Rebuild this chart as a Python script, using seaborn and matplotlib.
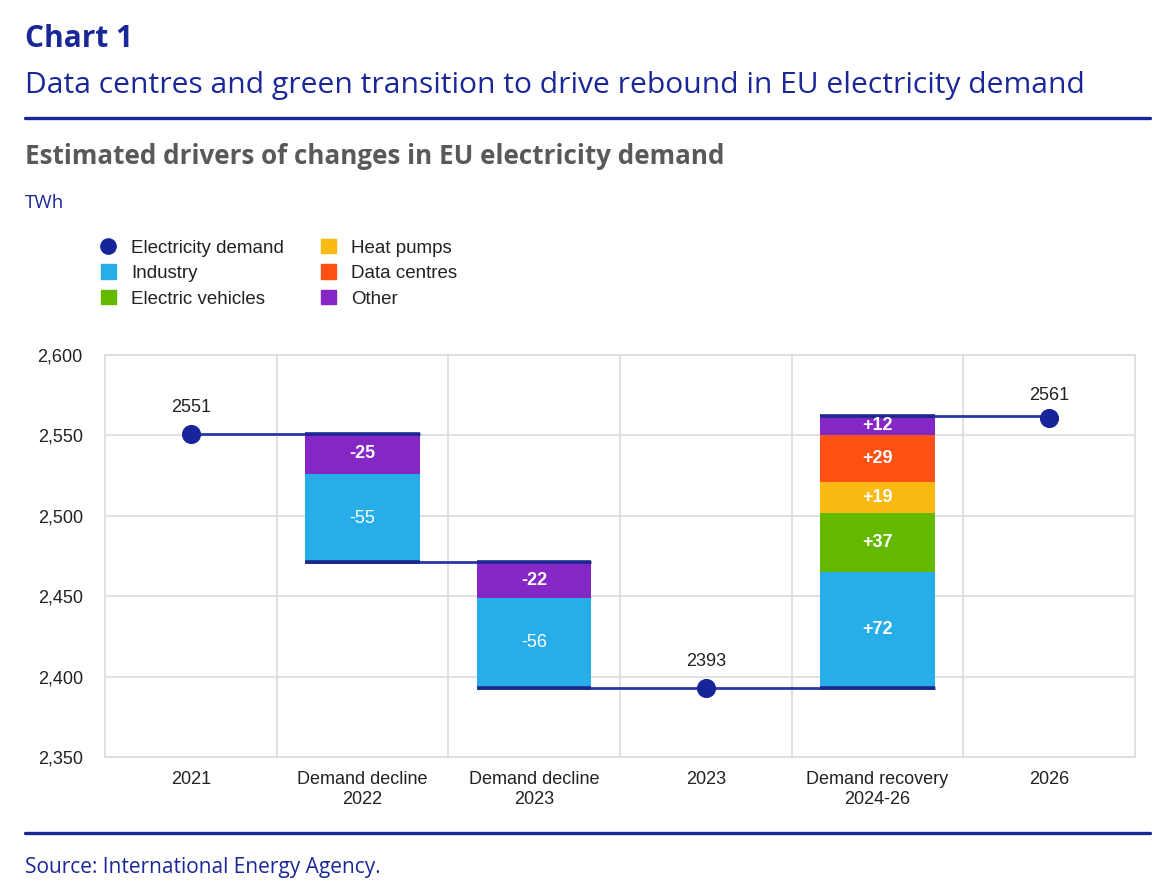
import matplotlib
matplotlib.use("Agg")
import matplotlib.pyplot as plt
from matplotlib.lines import Line2D
from matplotlib.patches import Patch
from matplotlib.ticker import FuncFormatter
import seaborn as sns
import pandas as pd

# ---------------- data ----------------
categories = ["2021", "Demand decline\n2022", "Demand decline\n2023", "2023",
              "Demand recovery\n2024-26", "2026"]
demand_pos = [0, 3, 5]
demand_values = [2551, 2393, 2561]
change_pos = [1, 2, 4]
industry = [-55, -56, 72]
electric_vehicles = [0, 0, 37]
heat_pumps = [0, 0, 19]
data_centres = [0, 0, 29]
other = [-25, -22, 12]
yticks = [2350, 2400, 2450, 2500, 2550, 2600]

DARK = "#1a2799"
DOT = "#18249a"
colors = {"Industry": "#27aee8", "Electric vehicles": "#65b800",
          "Heat pumps": "#fbb914", "Data centres": "#fe5113", "Other": "#8427c4"}
components = {"Industry": industry, "Electric vehicles": electric_vehicles,
              "Heat pumps": heat_pumps, "Data centres": data_centres, "Other": other}

sns.set_theme(style="white")
plt.rcParams["font.family"] = ["Liberation Sans", "DejaVu Sans"]

fig = plt.figure(figsize=(11.65, 8.83), dpi=100)
ax = fig.add_axes([105 / 1165, 1 - 757 / 883, 1030 / 1165, 402 / 883])

W = 0.665
# compute bar spans
level = demand_values[0]
spans = []
for i in range(len(change_pos)):
    total = sum(components[k][i] for k in components)
    new = level + total
    spans.append((min(level, new), max(level, new), level, new))
    level = new

# stacked floating bars
for i, p in enumerate(change_pos):
    low = spans[i][0]
    for name, vals in components.items():
        v = vals[i]
        if v == 0:
            continue
        h = abs(v)
        ax.bar(p, h, bottom=low, width=W, color=colors[name], linewidth=0, zorder=2)
        weight = "normal" if (name == "Industry" and v < 0) else "bold"
        ax.text(p, low + h / 2, f"{'+' if v > 0 else ''}{v}", ha="center", va="center",
                color="white", fontsize=13, fontweight=weight, zorder=5)
        low += h

# connector lines
conn = [
    (demand_pos[0], change_pos[0] + W / 2, demand_values[0]),
    (change_pos[0] - W / 2, change_pos[1] + W / 2, spans[0][3]),
    (change_pos[1] - W / 2, change_pos[2] + W / 2, spans[1][3]),
    (change_pos[2] - W / 2, demand_pos[2], spans[2][3]),
]
for x0, x1, y in conn:
    ax.plot([x0, x1], [y, y], color="#2a36a8", lw=2, zorder=3, solid_capstyle="butt")
# dark edges at bar tops/bottoms
for i, p in enumerate(change_pos):
    for y in spans[i][:2]:
        ax.plot([p - W / 2, p + W / 2], [y, y], color="#1c2790", lw=2.6, zorder=4,
                solid_capstyle="butt")

# demand dots
df_dem = pd.DataFrame({"x": demand_pos, "y": demand_values})
sns.scatterplot(data=df_dem, x="x", y="y", s=190, color=DOT, edgecolor=DOT,
                linewidth=0, zorder=6, ax=ax, legend=False)
for x, y in zip(demand_pos, demand_values):
    off = 19 if x != 5 else 16
    ax.annotate(str(y), (x, y), xytext=(0, off), textcoords="offset points",
                ha="center", va="center", fontsize=13, color="#222222")

ax.set_xlim(-0.5, 5.5)
ax.set_ylim(2350, 2600)
ax.set_yticks(yticks)
ax.yaxis.set_major_formatter(FuncFormatter(lambda v, _: f"{int(v):,}"))
ax.set_xticks(range(len(categories)))
ax.set_xticklabels(categories, fontsize=13, color="#222222", linespacing=1.25)
ax.tick_params(axis="y", labelsize=13, labelcolor="#222222", length=0, pad=16)
ax.tick_params(axis="x", length=0, pad=10)
ax.set_xlabel("")
ax.set_ylabel("")
for y in yticks:
    ax.axhline(y, color="#dcdcdc", lw=1.2, zorder=0)
for x in [0.5, 1.5, 2.5, 3.5, 4.5]:
    ax.axvline(x, color="#dcdcdc", lw=1.2, zorder=0)
for s in ax.spines.values():
    s.set_color("#dcdcdc")
    s.set_linewidth(1.2)
ax.grid(False)

# legend
handles = [
    Line2D([], [], marker="o", linestyle="none", markersize=11, color=DOT, label="Electricity demand"),
    Patch(color=colors["Industry"], label="Industry"),
    Patch(color=colors["Electric vehicles"], label="Electric vehicles"),
    Patch(color=colors["Heat pumps"], label="Heat pumps"),
    Patch(color=colors["Data centres"], label="Data centres"),
    Patch(color=colors["Other"], label="Other"),
]
fig.legend(handles=handles, ncol=2, loc="upper left", bbox_to_anchor=(84 / 1165, 1 - 222 / 883),
           frameon=False, fontsize=13.5, handlelength=0.8, handleheight=0.8,
           handletextpad=0.8, columnspacing=2.0, labelspacing=0.42, labelcolor="#222222")

# titles
tfont = ["Open Sans", "DejaVu Sans"]
fig.text(25 / 1165, 1 - 39 / 883, "Chart 1", fontsize=21.5, fontweight="bold", color=DARK,
         family=tfont, va="center")
fig.text(25 / 1165, 1 - 85 / 883,
         "Data centres and green transition to drive rebound in EU electricity demand",
         fontsize=21.6, color=DARK, family=tfont, va="center")
fig.add_artist(Line2D([25 / 1165, 1150 / 1165], [1 - 118 / 883] * 2, color=DARK, lw=2.4))
fig.text(25 / 1165, 1 - 157 / 883, "Estimated drivers of changes in EU electricity demand",
         fontsize=18.7, fontweight="bold", color="#595959", family=tfont, va="center")
fig.text(25 / 1165, 1 - 203 / 883, "TWh", fontsize=13.5, color=DARK, family=tfont, va="center")
fig.add_artist(Line2D([25 / 1165, 1150 / 1165], [1 - 833 / 883] * 2, color=DARK, lw=2.4))
fig.text(25 / 1165, 1 - 867 / 883, "Source: International Energy Agency.", fontsize=15,
         color=DARK, family=tfont, va="center")

fig.savefig("out.png", dpi=100, facecolor="white")
